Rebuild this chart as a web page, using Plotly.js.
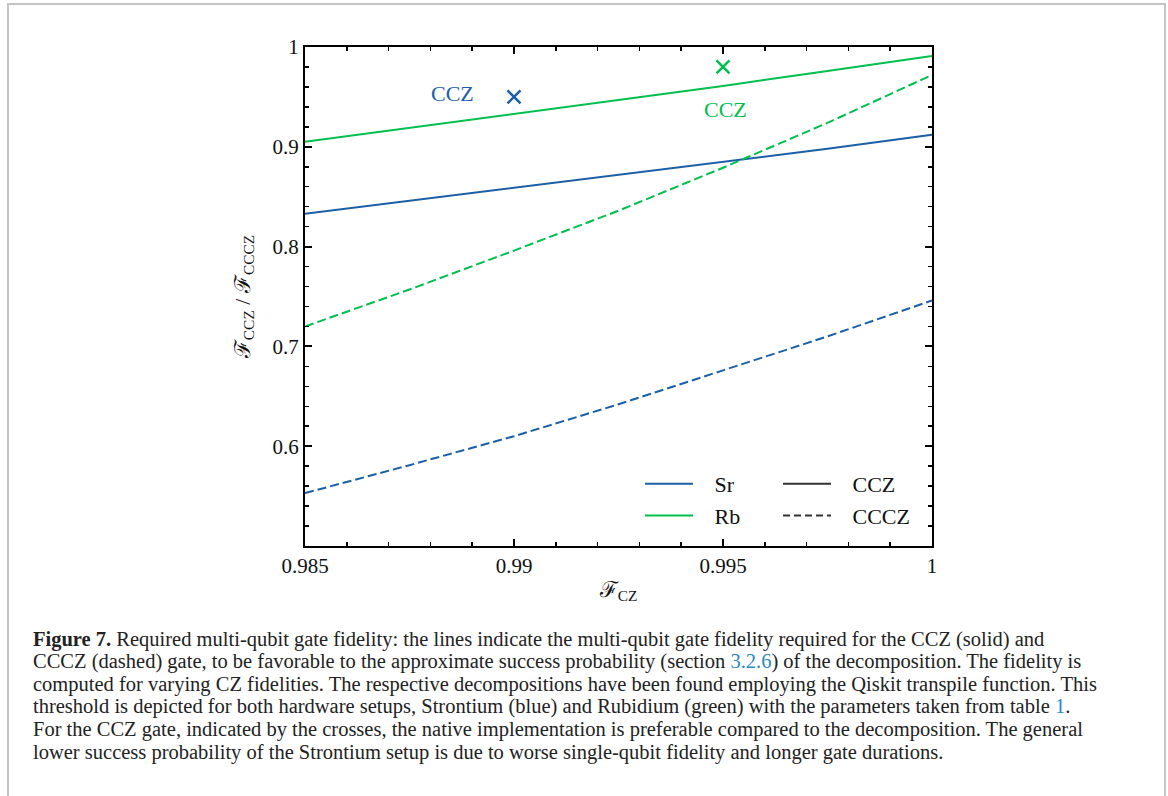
<!DOCTYPE html>
<html>
<head>
<meta charset="utf-8">
<script src="https://cdn.plot.ly/plotly-3.0.1.min.js"></script>
<style>
  html, body { margin: 0; padding: 0; background: #fff; }
  #chart { width: 1168px; height: 796px; }
</style>
</head>
<body>
<div id="chart"></div>
<script>
// ---- data ----
const fCZ = [0.985, 0.9875, 0.99, 0.9925, 0.995, 0.9975, 1.0];
const srCCZ  = [0.833, 0.846, 0.859, 0.872, 0.885, 0.898, 0.912];
const rbCCZ  = [0.905, 0.919, 0.933, 0.947, 0.961, 0.976, 0.991];
const srCCCZ = [0.553, 0.581, 0.610, 0.642, 0.676, 0.710, 0.746];
const rbCCCZ = [0.720, 0.757, 0.796, 0.836, 0.879, 0.924, 0.972];
const srNativeX = [0.99],  srNativeY = [0.95];
const rbNativeX = [0.995], rbNativeY = [0.98];
const xTicks = [0.985, 0.99, 0.995, 1];
const xTickText = ['0.985', '0.99', '0.995', '1'];
const yTicks = [0.6, 0.7, 0.8, 0.9, 1];
const yTickText = ['0.6', '0.7', '0.8', '0.9', '1'];
const seriesNames = ['Sr', 'Rb'];
const gateNames = ['CCZ', 'CCCZ'];
const captionLines = [
  '<b>Figure 7.</b> Required multi-qubit gate fidelity: the lines indicate the multi-qubit gate fidelity required for the CCZ (solid) and',
  'CCCZ (dashed) gate, to be favorable to the approximate success probability (section <span style="color:#2b8ac6">3.2.6</span>) of the decomposition. The fidelity is',
  'computed for varying CZ fidelities. The respective decompositions have been found employing the Qiskit transpile function. This',
  'threshold is depicted for both hardware setups, Strontium (blue) and Rubidium (green) with the parameters taken from table <span style="color:#2b8ac6">1</span>.',
  'For the CCZ gate, indicated by the crosses, the native implementation is preferable compared to the decomposition. The general',
  'lower success probability of the Strontium setup is due to worse single-qubit fidelity and longer gate durations.'
];

const BLUE = '#1a5fa8';
const GREEN = '#00bf4d';
const DARK = '#333333';
const FONT = 'Liberation Serif, DejaVu Serif, serif';
const DASH = '9px,4px';
const PAD = '\u00a0\u00a0\u00a0';

const traces = [
  {x: fCZ, y: srCCZ, mode: 'lines', name: PAD + seriesNames[0], line: {color: BLUE, width: 2}, legend: 'legend', legendgroup: 'a'},
  {x: fCZ, y: rbCCZ, mode: 'lines', name: PAD + seriesNames[1], line: {color: GREEN, width: 2}, legend: 'legend', legendgroup: 'b'},
  {x: fCZ, y: srCCCZ, mode: 'lines', line: {color: BLUE, width: 2, dash: DASH}, showlegend: false},
  {x: fCZ, y: rbCCCZ, mode: 'lines', line: {color: GREEN, width: 2, dash: DASH}, showlegend: false},
  {x: srNativeX, y: srNativeY, mode: 'markers', showlegend: false,
   marker: {symbol: 'x-thin', size: 13, line: {color: BLUE, width: 2.5}}},
  {x: rbNativeX, y: rbNativeY, mode: 'markers', showlegend: false,
   marker: {symbol: 'x-thin', size: 13, line: {color: GREEN, width: 2.5}}},
  {x: [null], y: [null], mode: 'lines', name: PAD + gateNames[0], line: {color: DARK, width: 2}, legend: 'legend2', legendgroup: 'c'},
  {x: [null], y: [null], mode: 'lines', name: PAD + gateNames[1], line: {color: DARK, width: 2, dash: '7px,4px'}, legend: 'legend2', legendgroup: 'd'}
];

// plot area geometry (px) used for paper-coordinate placement of caption / frame
const L = 305, R = 932, T = 47, B = 546;
const W = R - L, H = B - T;
const px = v => (v - L) / W;
const py = v => (B - v) / H;

const axisCommon = {
  showgrid: false, zeroline: false, showline: true, linecolor: '#000', linewidth: 2,
  mirror: 'allticks', ticks: 'inside', ticklen: 7, tickwidth: 2, tickcolor: '#000',
  tickfont: {family: FONT, size: 21, color: '#111'}
};

const captionAnnotations = captionLines.map((line, i) => ({
  x: px(31), y: py(639 + i * 22.6), xref: 'paper', yref: 'paper', xanchor: 'left', yanchor: 'middle',
  align: 'left', showarrow: false, text: line,
  font: {family: FONT, size: 20.5, color: '#222'}
}));

const legendCommon = {
  xanchor: 'left', yanchor: 'top',
  bgcolor: 'rgba(0,0,0,0)', borderwidth: 0, itemwidth: 48, tracegroupgap: 0,
  font: {family: FONT, size: 22, color: '#111'}
};

const layout = {
  width: 1168, height: 796,
  margin: {l: L, r: 1168 - R, t: T, b: 796 - B},
  paper_bgcolor: '#fff', plot_bgcolor: '#fff',
  font: {family: FONT, color: '#111'},
  xaxis: Object.assign({}, axisCommon, {
    range: [0.985, 1.0], tickmode: 'array', tickvals: xTicks, ticktext: xTickText,
    minor: {tickmode: 'linear', tick0: 0.985, dtick: 0.001, ticklen: 4, tickwidth: 1.5, tickcolor: '#000', ticks: 'inside'},
    title: {text: 'ℱ<sub>CZ</sub>', font: {family: FONT, size: 22, color: '#111'}, standoff: 4}
  }),
  yaxis: Object.assign({}, axisCommon, {
    range: [0.5, 1.0], tickmode: 'array', tickvals: yTicks, ticktext: yTickText,
    minor: {tickmode: 'linear', tick0: 0.5, dtick: 0.02, ticklen: 4, tickwidth: 1.5, tickcolor: '#000', ticks: 'inside'},
    title: {text: 'ℱ<sub>CCZ</sub> / ℱ<sub>CCCZ</sub>', font: {family: FONT, size: 22, color: '#111'}, standoff: 16}
  }),
  legend: Object.assign({}, legendCommon, {x: px(640), y: py(463)}),
  legend2: Object.assign({}, legendCommon, {x: px(778), y: py(463)}),
  annotations: [
    {x: 0.98854, y: 0.9537, xref: 'x', yref: 'y', text: 'CCZ', showarrow: false,
     font: {family: FONT, size: 22, color: BLUE}},
    {x: 0.99506, y: 0.937, xref: 'x', yref: 'y', text: 'CCZ', showarrow: false,
     font: {family: FONT, size: 22, color: GREEN}}
  ].concat(captionAnnotations),
  shapes: [
    {type: 'rect', xref: 'paper', yref: 'paper', x0: px(8), x1: px(1165), y0: py(820), y1: py(4),
     line: {color: '#c4c4c4', width: 2}, fillcolor: 'rgba(0,0,0,0)', layer: 'below'}
  ]
};

Plotly.newPlot('chart', traces, layout, {displayModeBar: false, staticPlot: true});
</script>
</body>
</html>
